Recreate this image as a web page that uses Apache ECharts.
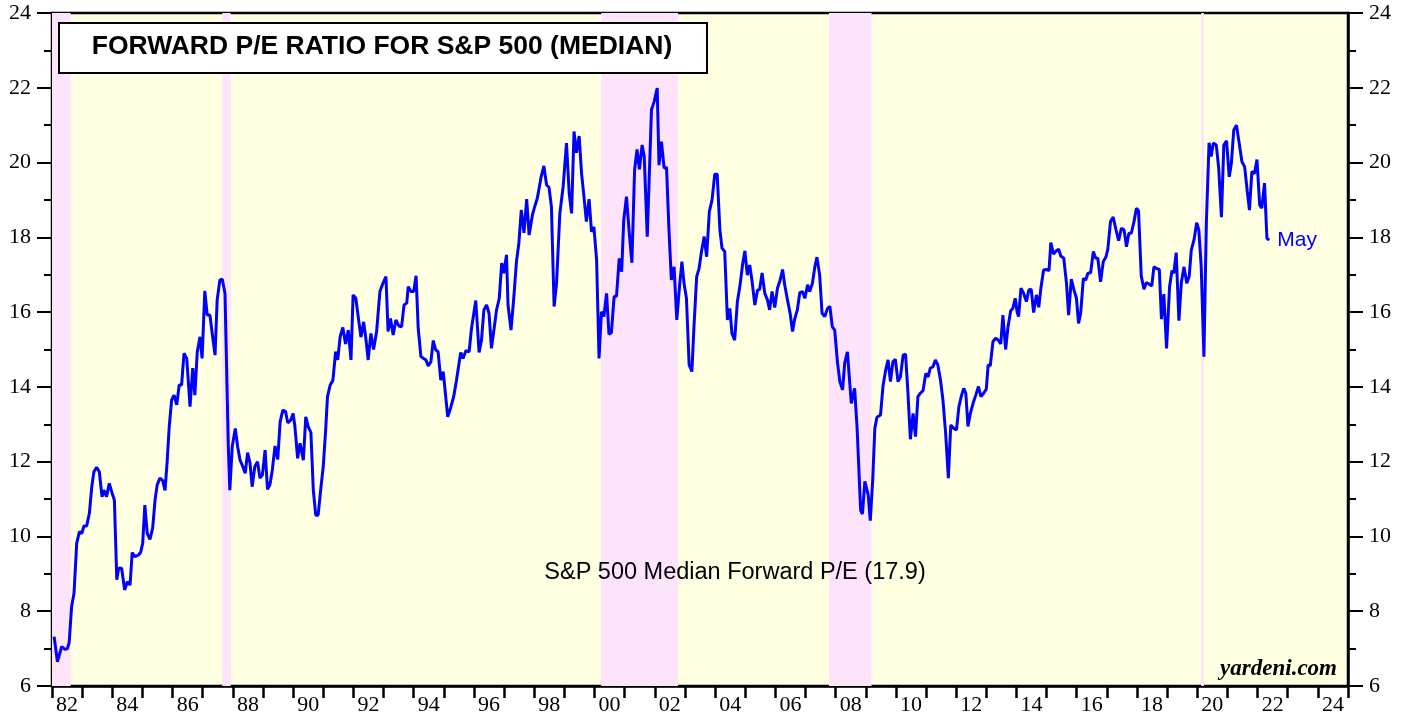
<!DOCTYPE html>
<html>
<head>
<meta charset="utf-8">
<title>Forward P/E Ratio for S&P 500 (Median)</title>
<script src="https://cdn.jsdelivr.net/npm/echarts@6/dist/echarts.min.js"></script>
<style>
  html, body { margin: 0; padding: 0; background: #fff; }
  #chart { width: 1407px; height: 717px; }
</style>
</head>
<body>
<div id="chart"></div>
<script>
// year labels, one per category band (1982 .. 2024)
const yearLabels = ['82', '83', '84', '85', '86', '87', '88', '89', '90', '91', '92', '93', '94', '95', '96', '97', '98', '99',
  '00', '01', '02', '03', '04', '05', '06', '07', '08', '09', '10', '11', '12', '13', '14', '15', '16', '17', '18', '19',
  '20', '21', '22', '23', '24']

// bear market periods (shaded pink), decimal years
const bearMarkets = [
  [1982.0, 1982.62],
  [1987.65, 1987.93],
  [2000.22, 2002.77],
  [2007.78, 2009.19],
  [2020.13, 2020.22]
]

// S&P 500 median forward P/E (decimal year, value)
const peDates = [
  1982.07, 1982.18, 1982.24, 1982.32, 1982.43, 1982.51, 1982.57, 1982.65, 1982.73, 1982.82, 1982.91, 1982.99,
  1983.06, 1983.15, 1983.24, 1983.32, 1983.39, 1983.48, 1983.57, 1983.66, 1983.72, 1983.81, 1983.90, 1983.99,
  1984.07, 1984.15, 1984.21, 1984.31, 1984.41, 1984.50, 1984.59, 1984.66, 1984.75, 1984.86, 1984.94,
  1985.01, 1985.08, 1985.16, 1985.25, 1985.34, 1985.42, 1985.49, 1985.58, 1985.67, 1985.75, 1985.82, 1985.89, 1985.97,
  1986.05, 1986.14, 1986.22, 1986.30, 1986.38, 1986.47, 1986.58, 1986.67, 1986.74, 1986.82, 1986.91, 1986.98,
  1987.07, 1987.15, 1987.24, 1987.33, 1987.41, 1987.48, 1987.57, 1987.65, 1987.74, 1987.85, 1987.90, 1987.98,
  1988.08, 1988.16, 1988.24, 1988.33, 1988.41, 1988.49, 1988.57, 1988.64, 1988.73, 1988.82, 1988.90, 1988.98,
  1989.07, 1989.15, 1989.23, 1989.31, 1989.40, 1989.49, 1989.57, 1989.66, 1989.75, 1989.82, 1989.92,
  1990.00, 1990.06, 1990.15, 1990.23, 1990.34, 1990.42, 1990.50, 1990.59, 1990.67, 1990.75, 1990.83, 1990.92,
  1991.00, 1991.08, 1991.14, 1991.23, 1991.32, 1991.41, 1991.48, 1991.56, 1991.65, 1991.74, 1991.83, 1991.92, 1991.99,
  1992.08, 1992.16, 1992.25, 1992.34, 1992.42, 1992.49, 1992.58, 1992.67, 1992.77, 1992.88, 1992.98,
  1993.08, 1993.15, 1993.23, 1993.32, 1993.41, 1993.51, 1993.60, 1993.68, 1993.77, 1993.82, 1993.91,
  1994.00, 1994.08, 1994.15, 1994.24, 1994.33, 1994.41, 1994.48, 1994.57, 1994.65, 1994.73, 1994.81, 1994.90, 1994.98,
  1995.13, 1995.23, 1995.33, 1995.42, 1995.56, 1995.64, 1995.73, 1995.84, 1995.92,
  1996.06, 1996.17, 1996.25, 1996.33, 1996.42, 1996.50, 1996.58, 1996.67, 1996.75, 1996.84, 1996.92, 1996.99,
  1997.08, 1997.13, 1997.23, 1997.32, 1997.41, 1997.49, 1997.57, 1997.66, 1997.75, 1997.83, 1997.94,
  1998.03, 1998.10, 1998.16, 1998.23, 1998.32, 1998.41, 1998.49, 1998.57, 1998.66, 1998.74, 1998.85, 1998.96,
  1999.07, 1999.16, 1999.24, 1999.32, 1999.40, 1999.49, 1999.57, 1999.65, 1999.73, 1999.82, 1999.90, 1999.98,
  2000.07, 2000.15, 2000.23, 2000.31, 2000.40, 2000.48, 2000.56, 2000.65, 2000.73, 2000.82, 2000.90, 2000.97,
  2001.06, 2001.15, 2001.24, 2001.33, 2001.41, 2001.49, 2001.58, 2001.65, 2001.75, 2001.89, 2001.98,
  2002.08, 2002.14, 2002.22, 2002.31, 2002.39, 2002.47, 2002.55, 2002.64, 2002.73, 2002.82, 2002.90, 2002.97,
  2003.05, 2003.14, 2003.23, 2003.30, 2003.39, 2003.47, 2003.55, 2003.64, 2003.72, 2003.81, 2003.90, 2003.99,
  2004.07, 2004.16, 2004.23, 2004.32, 2004.41, 2004.49, 2004.56, 2004.65, 2004.74, 2004.83, 2004.91, 2004.99,
  2005.07, 2005.15, 2005.23, 2005.32, 2005.41, 2005.48, 2005.56, 2005.65, 2005.74, 2005.81, 2005.89, 2005.98,
  2006.07, 2006.16, 2006.24, 2006.31, 2006.40, 2006.49, 2006.57, 2006.64, 2006.73, 2006.81, 2006.90, 2006.98,
  2007.07, 2007.14, 2007.23, 2007.31, 2007.38, 2007.47, 2007.55, 2007.64, 2007.73, 2007.81, 2007.89, 2007.97,
  2008.06, 2008.14, 2008.23, 2008.30, 2008.39, 2008.52, 2008.58, 2008.63, 2008.71, 2008.83, 2008.89, 2008.97,
  2009.08, 2009.15, 2009.23, 2009.30, 2009.37, 2009.49, 2009.57, 2009.66, 2009.74, 2009.82, 2009.90, 2009.98,
  2010.07, 2010.15, 2010.24, 2010.32, 2010.40, 2010.48, 2010.57, 2010.65, 2010.73, 2010.81, 2010.90, 2010.99,
  2011.07, 2011.14, 2011.23, 2011.31, 2011.39, 2011.48, 2011.56, 2011.65, 2011.74, 2011.82, 2011.92,
  2012.01, 2012.09, 2012.18, 2012.25, 2012.32, 2012.39, 2012.47, 2012.56, 2012.65, 2012.74, 2012.82, 2012.91,
  2013.00, 2013.06, 2013.13, 2013.22, 2013.31, 2013.40, 2013.48, 2013.55, 2013.64, 2013.72, 2013.81, 2013.88, 2013.96,
  2014.02, 2014.07, 2014.15, 2014.24, 2014.33, 2014.41, 2014.49, 2014.57, 2014.66, 2014.74, 2014.81, 2014.90, 2014.99,
  2015.08, 2015.14, 2015.23, 2015.32, 2015.40, 2015.47, 2015.57, 2015.66, 2015.73, 2015.82, 2015.91, 2015.99,
  2016.06, 2016.13, 2016.22, 2016.30, 2016.37, 2016.46, 2016.55, 2016.63, 2016.70, 2016.79, 2016.88, 2016.97,
  2017.03, 2017.12, 2017.21, 2017.30, 2017.39, 2017.48, 2017.57, 2017.65, 2017.73, 2017.81, 2017.90, 2017.98,
  2018.05, 2018.14, 2018.23, 2018.31, 2018.40, 2018.49, 2018.56, 2018.64, 2018.74, 2018.81, 2018.89, 2018.98,
  2019.08, 2019.16, 2019.22, 2019.30, 2019.39, 2019.47, 2019.56, 2019.65, 2019.73, 2019.80, 2019.89, 2019.98,
  2020.05, 2020.13, 2020.22, 2020.30, 2020.39, 2020.46, 2020.53, 2020.63, 2020.71, 2020.80, 2020.88, 2020.97,
  2021.06, 2021.13, 2021.21, 2021.30, 2021.39, 2021.48, 2021.57, 2021.66, 2021.73, 2021.81, 2021.90, 2021.98,
  2022.07, 2022.14, 2022.23, 2022.31, 2022.39
]
const peValues = [
  7.32, 6.65, 6.62, 7.05, 6.98, 7.0, 7.16, 8.12, 8.48, 9.82, 10.13, 10.08,
  10.28, 10.28, 10.62, 11.33, 11.73, 11.85, 11.73, 11.06, 11.24, 11.06, 11.42, 11.17,
  10.97, 8.84, 9.15, 9.15, 8.57, 8.79, 8.7, 9.57, 9.46, 9.5, 9.57,
  9.82, 10.84, 10.08, 9.92, 10.22, 10.98, 11.38, 11.56, 11.5, 11.23, 12.0, 12.94, 13.65,
  13.78, 13.52, 14.05, 14.05, 14.9, 14.76, 13.47, 14.5, 13.78, 14.94, 15.34, 14.76,
  16.57, 15.92, 15.92, 15.34, 14.85, 16.32, 16.86, 16.88, 16.5, 12.4, 11.24, 12.4,
  12.89, 12.4, 12.04, 11.87, 11.69, 12.24, 11.96, 11.33, 11.87, 12.0, 11.56, 11.64,
  12.31, 11.26, 11.38, 11.78, 12.42, 12.06, 13.07, 13.38, 13.34, 13.04, 13.11,
  13.29, 12.94, 12.09, 12.49, 12.04, 13.2, 12.94, 12.78, 11.24, 10.57, 10.57, 11.29,
  11.87, 12.85, 13.74, 14.05, 14.18, 14.94, 14.72, 15.34, 15.59, 15.15, 15.52, 14.72, 16.46,
  16.37, 15.88, 15.33, 15.74, 15.25, 14.72, 15.43, 15.0, 15.48, 16.55, 16.77,
  16.95, 15.48, 15.83, 15.39, 15.79, 15.63, 15.61, 16.19, 16.24, 16.68, 16.55,
  16.55, 16.97, 15.57, 14.81, 14.76, 14.72, 14.56, 14.67, 15.24, 14.99, 14.94, 14.18, 14.41,
  13.2, 13.45, 13.75, 14.18, 14.92, 14.76, 14.97, 14.94, 15.57,
  16.31, 14.92, 15.25, 16.06, 16.19, 15.97, 15.03, 15.57, 16.06, 16.37, 17.31, 17.04,
  17.53, 16.19, 15.52, 16.37, 17.35, 17.84, 18.73, 18.12, 19.02, 18.06, 18.6,
  18.86, 19.04, 19.04, 19.62, 19.91, 19.4, 19.34, 18.82, 16.15, 16.77, 18.64, 19.36,
  20.52, 19.18, 18.64, 20.83, 20.26, 20.71, 19.71, 19.09, 18.42, 19.02, 18.15, 18.28,
  17.39, 14.76, 16.01, 15.88, 16.5, 15.41, 15.45, 16.41, 16.43, 17.44, 17.08, 18.46,
  19.09, 18.15, 17.32, 19.8, 20.35, 19.82, 20.47, 20.16, 18.02, 21.41, 21.63,
  21.99, 19.93, 20.56, 19.85, 19.87, 18.2, 16.86, 17.21, 15.79, 16.68, 17.35, 16.77,
  16.37, 14.59, 14.41, 15.61, 16.95, 17.17, 17.62, 18.02, 17.48, 18.69, 19.0, 19.69,
  19.69, 18.2, 17.71, 17.62, 15.79, 16.1, 15.43, 15.25, 16.28, 16.73, 17.26, 17.64,
  16.99, 17.26, 16.81, 16.19, 16.59, 16.61, 17.05, 16.5, 16.32, 16.06, 16.55, 16.12,
  16.64, 16.86, 17.14, 16.73, 16.34, 15.97, 15.48, 15.81, 16.06, 16.52, 16.55, 16.37,
  16.73, 16.55, 16.77, 17.21, 17.47, 16.99, 15.97, 15.88, 16.1, 16.15, 15.61, 15.52,
  14.67, 14.14, 13.92, 14.63, 14.94, 13.56, 13.52, 13.96, 12.94, 10.7, 10.6, 11.47,
  11.11, 10.42, 11.5, 12.89, 13.19, 13.25, 14.01, 14.45, 14.72, 14.14, 14.67, 14.74,
  14.14, 14.27, 14.85, 14.88, 13.83, 12.6, 13.29, 12.67, 13.74, 13.83, 13.9, 14.36,
  14.27, 14.5, 14.54, 14.72, 14.59, 14.18, 13.65, 12.76, 11.56, 12.98, 12.89,
  12.85, 13.47, 13.78, 13.96, 13.83, 12.94, 13.29, 13.56, 13.78, 14.01, 13.74, 13.83,
  13.94, 14.59, 14.56, 15.21, 15.3, 15.25, 15.15, 15.92, 15.0, 15.61, 16.04, 16.1, 16.37,
  16.01, 15.88, 16.64, 16.5, 16.28, 16.59, 16.61, 15.99, 16.46, 16.13, 16.64, 17.13, 17.14,
  17.11, 17.86, 17.55, 17.64, 17.68, 17.5, 17.44, 16.77, 15.92, 16.88, 16.59, 16.37,
  15.7, 15.97, 16.9, 16.86, 17.04, 17.05, 17.62, 17.44, 17.44, 16.81, 17.35, 17.48,
  17.68, 18.42, 18.54, 18.21, 17.91, 18.24, 18.2, 17.75, 18.11, 18.11, 18.42, 18.78,
  18.71, 16.97, 16.61, 16.79, 16.75, 16.7, 17.21, 17.17, 17.14, 15.81, 16.48, 15.03,
  16.68, 17.11, 17.04, 17.59, 15.77, 16.79, 17.21, 16.77, 16.95, 17.66, 17.93, 18.39,
  18.2, 17.21, 14.81, 18.38, 20.53, 20.16, 20.52, 20.47, 19.85, 18.54, 20.47, 20.58,
  19.62, 19.98, 20.87, 21.0, 20.52, 20.02, 19.89, 19.22, 18.73, 19.76, 19.71, 20.08,
  18.86, 18.78, 19.45, 17.97, 17.93
]

const yellow = '#ffffe2'
const pink = '#fde4fb'
const serif = '"Liberation Serif", "Times New Roman", serif'
const sans = '"Liberation Sans", Arial, sans-serif'

const chart = echarts.init(document.getElementById('chart'))

const yAxisCommon = {
  type: 'value',
  min: 6,
  max: 24,
  interval: 2,
  axisLine: { show: true, lineStyle: { color: '#000', width: 2.5 } },
  axisTick: { show: true, length: 15, lineStyle: { color: '#000', width: 2 } },
  minorTick: { show: true, splitNumber: 2, length: 8, lineStyle: { color: '#000', width: 2 } },
  splitLine: { show: false },
  axisLabel: { color: '#000', fontFamily: serif, fontSize: 22, margin: 21 }
}

chart.setOption({
  animation: false,
  backgroundColor: '#fff',
  grid: {
    left: 52,
    top: 13,
    width: 1296,
    height: 673,
    show: true,
    backgroundColor: yellow,
    borderColor: '#000',
    borderWidth: 2.5
  },
  xAxis: [{
    // year bands: ticks on year boundaries, labels centred in the year
    type: 'category',
    data: yearLabels,
    boundaryGap: true,
    axisLine: { show: true, lineStyle: { color: '#000', width: 2.5 } },
    axisTick: { show: true, interval: 0, length: 12, lineStyle: { color: '#000', width: 2.5 } },
    axisLabel: { interval: 1, color: '#000', fontFamily: serif, fontSize: 22, margin: 8 },
    splitLine: { show: false }
  }, {
    // continuous time scale used by the line
    type: 'value',
    min: 1982,
    max: 2025,
    show: false,
    splitLine: { show: false }
  }],
  yAxis: [
    Object.assign({ position: 'left' }, yAxisCommon),
    Object.assign({ position: 'right' }, yAxisCommon)
  ],
  series: [{
    name: 'bear',
    type: 'line',
    xAxisIndex: 1,
    yAxisIndex: 0,
    data: [],
    z: 1,
    markArea: {
      silent: true,
      itemStyle: { color: pink },
      data: bearMarkets.map(b => [{ xAxis: b[0] }, { xAxis: b[1] }])
    }
  }, {
    name: 'S&P 500 Median Forward P/E',
    type: 'line',
    xAxisIndex: 1,
    yAxisIndex: 0,
    z: 5,
    showSymbol: false,
    data: peDates.map((d, i) => [d, peValues[i]]),
    lineStyle: { color: '#0000ff', width: 3 },
    endLabel: {
      show: true,
      formatter: 'May',
      color: '#0000ff',
      fontFamily: sans,
      fontSize: 21,
      distance: 8
    }
  }],
  graphic: [{
    type: 'rect',
    left: 58,
    top: 22,
    z: 10,
    shape: { width: 648, height: 50 },
    style: { fill: '#fff', stroke: '#000', lineWidth: 2 }
  }, {
    type: 'text',
    x: 382,
    y: 47,
    z: 11,
    style: {
      text: 'FORWARD P/E RATIO FOR S&P 500 (MEDIAN)',
      fill: '#000',
      font: 'bold 26.5px ' + sans,
      textAlign: 'center',
      textVerticalAlign: 'middle'
    }
  }, {
    type: 'text',
    x: 735,
    y: 573,
    z: 11,
    style: {
      text: 'S&P 500 Median Forward P/E (17.9)',
      fill: '#000',
      font: '23.5px ' + sans,
      textAlign: 'center',
      textVerticalAlign: 'middle'
    }
  }, {
    type: 'text',
    x: 1337,
    y: 669,
    z: 11,
    style: {
      text: 'yardeni.com',
      fill: '#000',
      font: 'italic bold 23px ' + serif,
      textAlign: 'right',
      textVerticalAlign: 'middle'
    }
  }]
})
</script>
</body>
</html>
